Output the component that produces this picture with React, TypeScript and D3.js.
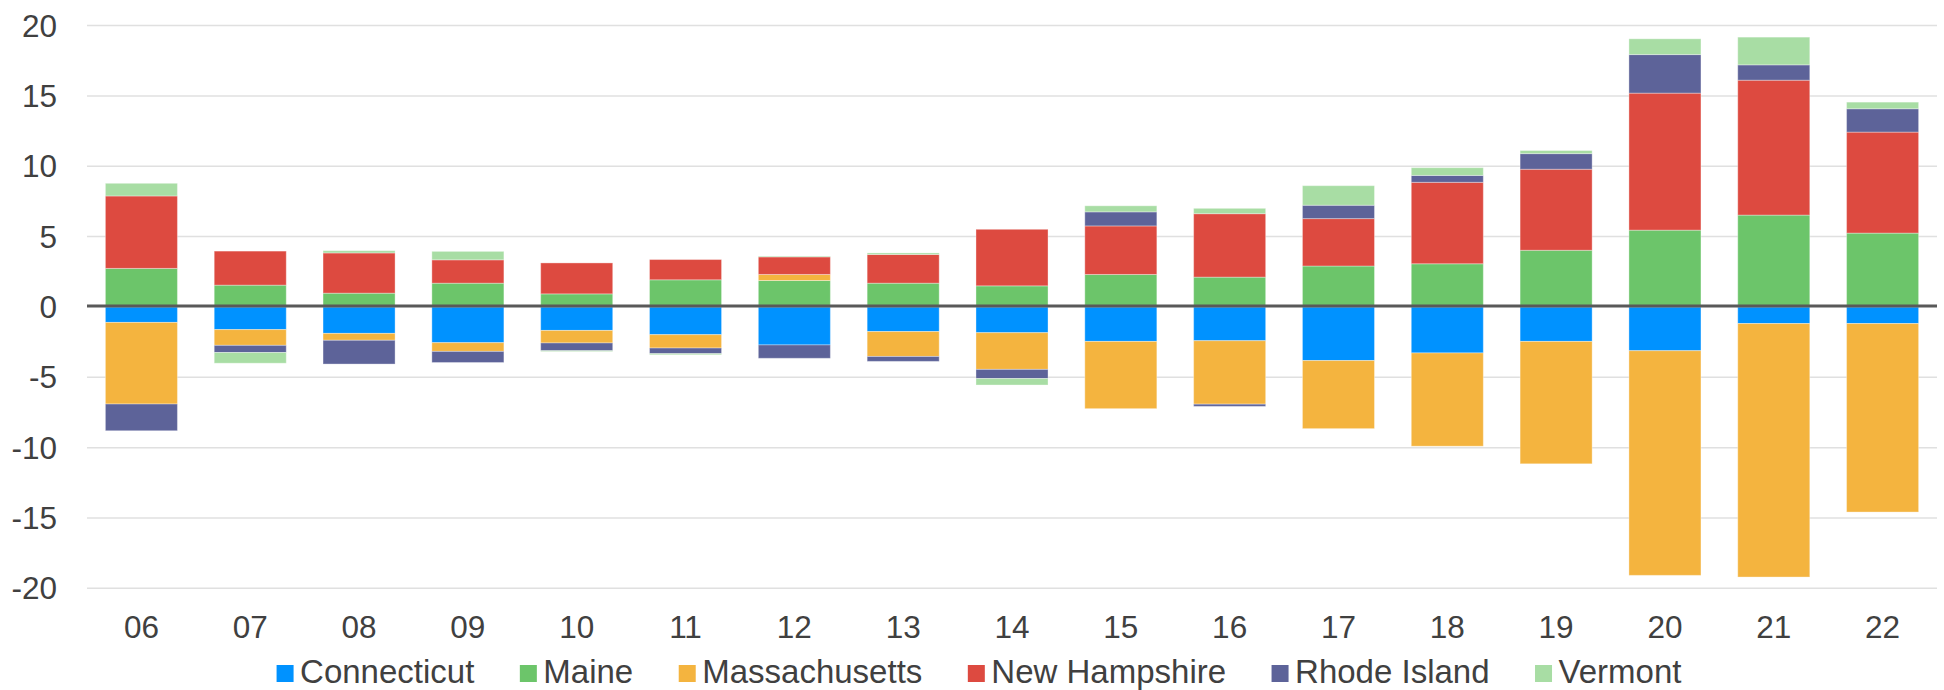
import React, { useMemo } from "react";
import * as d3 from "d3";

const years = ["06","07","08","09","10","11","12","13","14","15","16","17","18","19","20","21","22"];
const seriesNames = ["Connecticut","Maine","Massachusetts","New Hampshire","Rhode Island","Vermont"];
const seriesColors = ["#0092FF","#6CC56A","#F4B43F","#DD4A40","#5D6399","#A8DDA4"];

const connecticut = [-1.1,-1.61,-1.88,-2.54,-1.67,-1.97,-2.7,-1.75,-1.83,-2.45,-2.4,-3.81,-3.27,-2.45,-3.11,-1.18,-1.18];
const maine = [2.74,1.55,0.98,1.69,0.93,1.93,1.88,1.69,1.5,2.31,2.12,2.91,3.07,4.03,5.46,6.53,5.25];
const massachusetts = [-5.8,-1.12,-0.49,-0.62,-0.89,-0.95,0.43,-1.77,-2.61,-4.78,-4.51,-4.84,-6.63,-8.7,-15.97,-18.02,-13.4];
const newHampshire = [5.15,2.42,2.86,1.66,2.2,1.44,1.25,2.04,4.02,3.45,4.51,3.37,5.79,5.76,9.74,9.59,7.18];
const rhodeIsland = [-1.9,-0.51,-1.69,-0.79,-0.55,-0.4,-0.95,-0.35,-0.65,1.0,-0.16,0.95,0.49,1.11,2.74,1.09,1.66];
const vermont = [0.9,-0.76,0.16,0.6,-0.06,-0.08,0.05,0.11,-0.46,0.43,0.38,1.39,0.55,0.22,1.12,1.97,0.47];

const yTicks = [-20,-15,-10,-5,0,5,10,15,20];

const W = 1944, H = 690;
const FONT = "'Liberation Sans', Arial, sans-serif";
const TEXT = "#404040";

export default function App() {
  const seriesValues = [connecticut, maine, massachusetts, newHampshire, rhodeIsland, vermont];
  const rows = years.map((y, i) => {
    const r: any = { year: y };
    seriesNames.forEach((s, k) => (r[s] = seriesValues[k][i]));
    return r;
  });
  const stacked = d3.stack<any>().keys(seriesNames).offset(d3.stackOffsetDiverging)(rows);

  const x = d3.scaleBand<string>().domain(years).range([87, 1937]).paddingInner(0.338).paddingOuter(0.169);
  const y = d3.scaleLinear().domain([-20, 20]).range([588.3, 25.6]);

  const legendFont = 33;
  const legendLayout = useMemo(() => {
    const canvas = document.createElement("canvas");
    const ctx = canvas.getContext("2d")!;
    ctx.font = `${legendFont}px 'Liberation Sans', Arial, sans-serif`;
    const sw = 17, gapText = 6.5, gapItem = 45.5;
    const widths = seriesNames.map((n) => ctx.measureText(n).width);
    const total = widths.reduce((a, w) => a + sw + gapText + w, 0) + gapItem * (seriesNames.length - 1);
    let cx = 979 - total / 2;
    return seriesNames.map((n, i) => {
      const item = { x: cx, tx: cx + sw + gapText };
      cx += sw + gapText + widths[i] + gapItem;
      return item;
    });
  }, []);

  return (
    <svg width={W} height={H} style={{ position: "absolute", left: 0, top: 0, display: "block", background: "#fff" }}>
      <g>
        {yTicks.filter((t) => t !== 0).map((t) => (
          <line key={t} x1={87} x2={1937} y1={y(t)} y2={y(t)} stroke="#e0e0e0" strokeWidth={1.5} />
        ))}
      </g>
      <g>
        {stacked.map((s, k) => (
          <g key={s.key} fill={seriesColors[k]}>
            {s.map((d, i) => {
              const y0 = y(d[0]), y1 = y(d[1]);
              const top = Math.min(y0, y1), h = Math.abs(y1 - y0);
              if (h < 0.01) return null;
              return (
                <rect key={i} x={x(years[i])} width={x.bandwidth()} y={top} height={h}
                  stroke="#ffffff" strokeOpacity={0.35} strokeWidth={1} />
              );
            })}
          </g>
        ))}
      </g>
      <line x1={87} x2={1937} y1={y(0) - 1} y2={y(0) - 1} stroke="#595959" strokeWidth={3} />
      <g fontFamily={FONT} fontSize={31.5} fill={TEXT}>
        {yTicks.map((t) => (
          <text key={t} x={57} y={y(t)} dy="0.35em" textAnchor="end">{t}</text>
        ))}
        {years.map((yr) => (
          <text key={yr} x={(x(yr) as number) + x.bandwidth() / 2} y={638} textAnchor="middle">{yr}</text>
        ))}
      </g>
      <g fontFamily={FONT} fontSize={legendFont} fill={TEXT}>
        {seriesNames.map((n, i) => (
          <g key={n}>
            <rect x={legendLayout[i].x} y={665} width={17} height={17} fill={seriesColors[i]} />
            <text x={legendLayout[i].tx} y={682.5}>{n}</text>
          </g>
        ))}
      </g>
    </svg>
  );
}
